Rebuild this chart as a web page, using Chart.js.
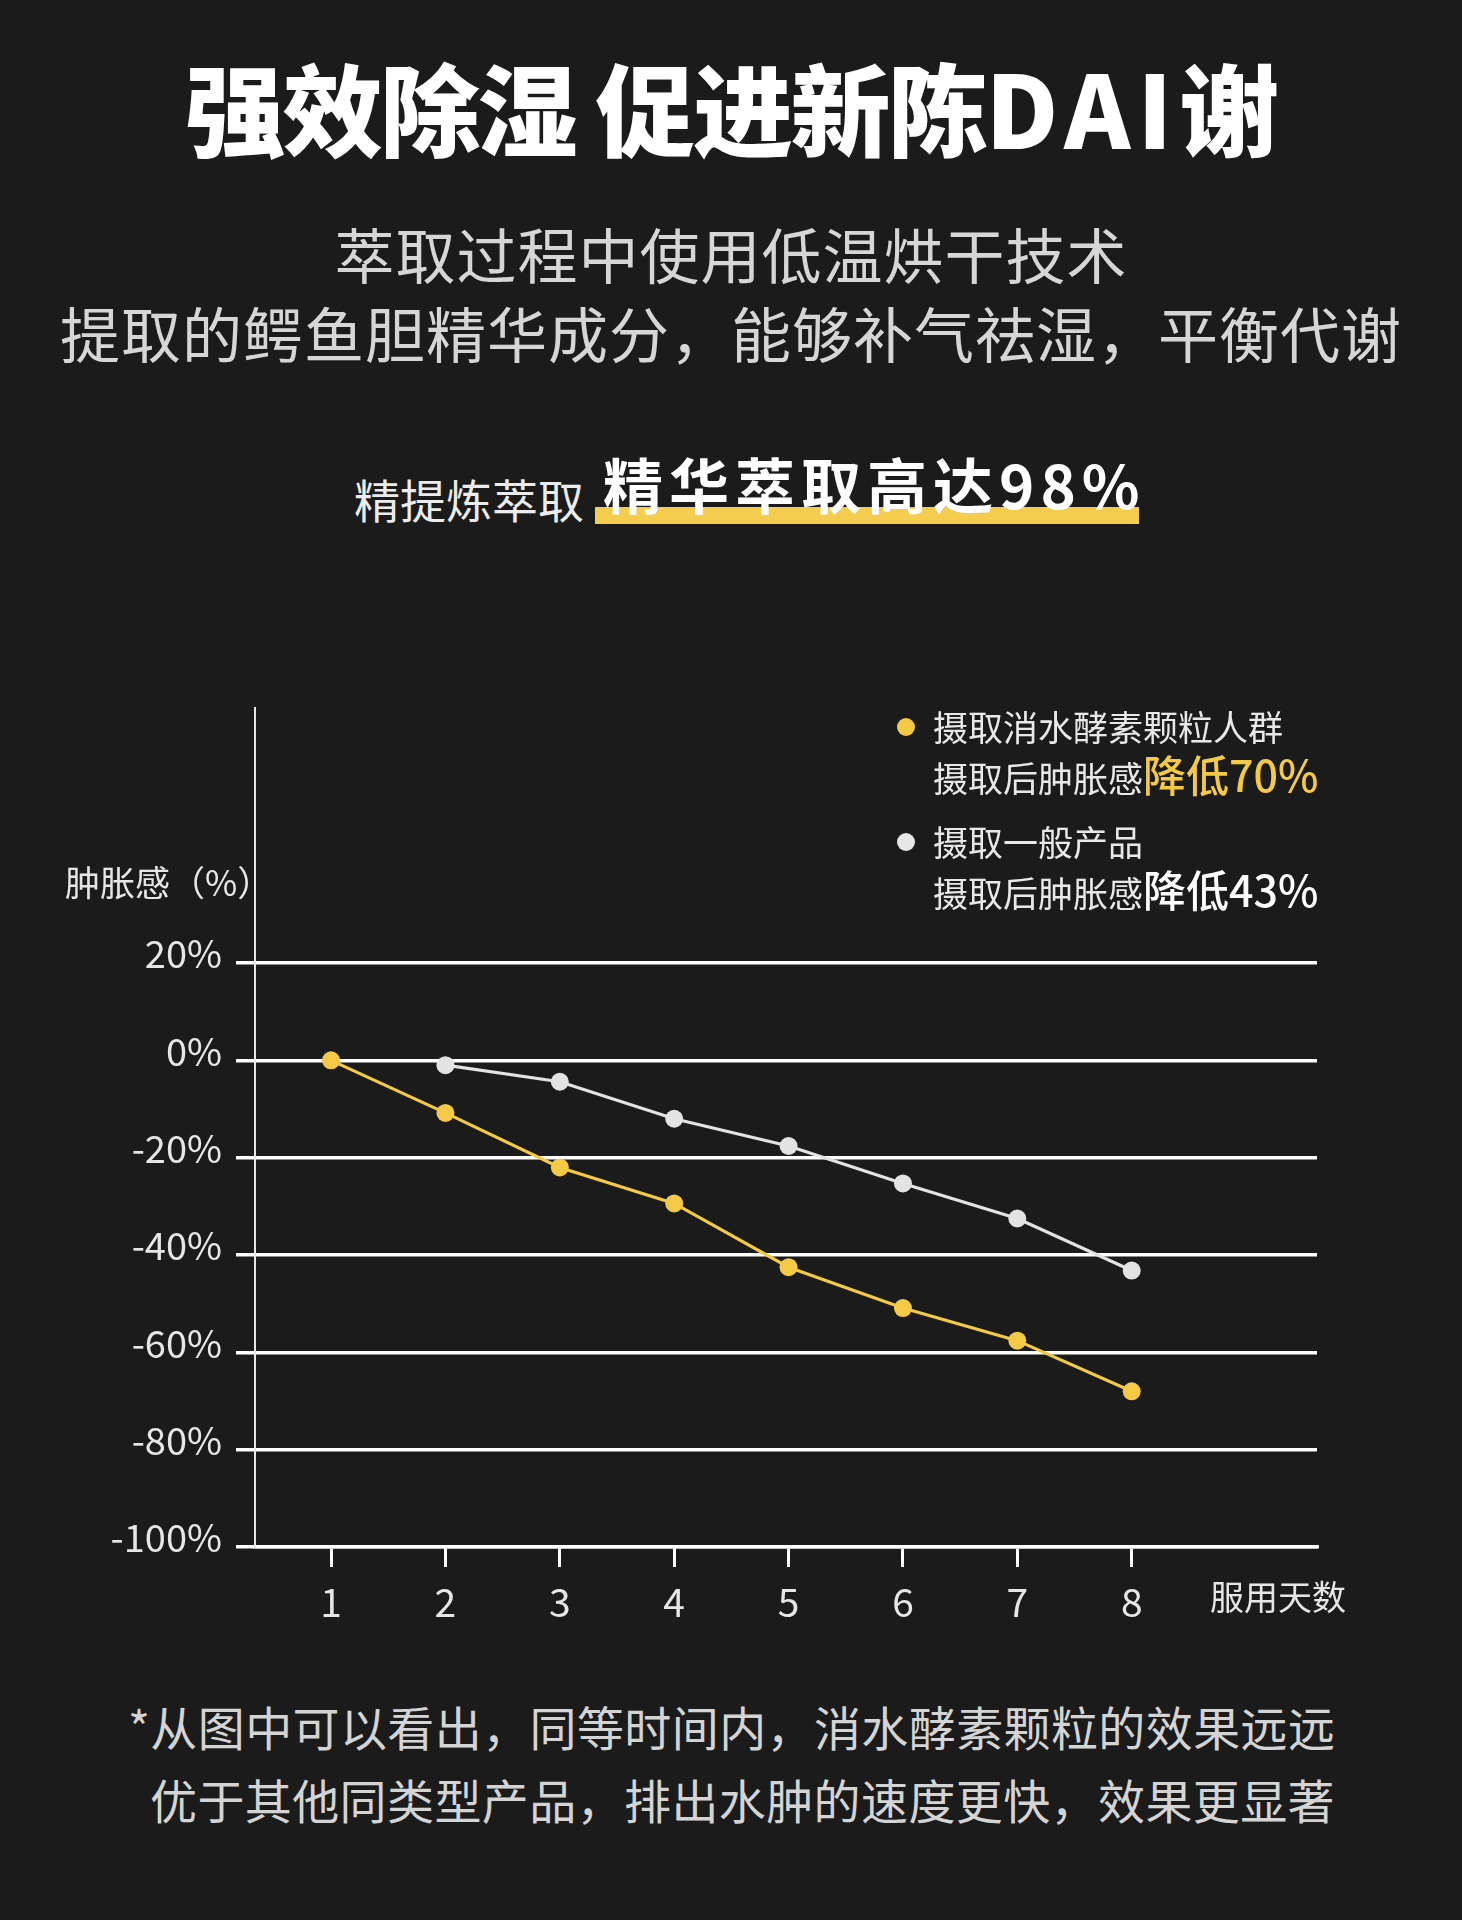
<!DOCTYPE html>
<html>
<head>
<meta charset="utf-8">
<script src="https://cdn.jsdelivr.net/npm/chart.js@4.4.1/dist/chart.umd.min.js"></script>
<style>
  html, body { margin: 0; padding: 0; background: #1b1b1b; }
  body { width: 1462px; height: 1920px; position: relative; overflow: hidden;
         font-family: "Noto Sans CJK SC", "Noto Sans", sans-serif; }
  .t { position: absolute; white-space: nowrap; }
  #title { left: 0; width: 1462px; text-align: center; top: 46px; line-height: 120px;
           font-size: 100px; font-weight: 900; color: #ffffff; letter-spacing: -2.5px; }
  #title .lat { letter-spacing: 7px; }
  .sub { left: 0; width: 1462px; text-align: center; line-height: 80px; font-size: 60px;
         color: #d6d6d6; font-weight: 400; letter-spacing: 1px; }
  #s1 { top: 213px; }
  #s2 { top: 292px; }
  #lead { left: 354px; top: 468px; line-height: 60px; font-size: 46px; color: #ececec; }
  #bar { position: absolute; left: 595px; top: 507px; width: 544px; height: 17px; background: #f5cd4e; }
  #hl { left: 603px; top: 448px; line-height: 70px; font-size: 60px; font-weight: 700;
        color: #ffffff; letter-spacing: 6px; }
  .dot { position: absolute; width: 18px; height: 18px; border-radius: 50%; }
  .lg { left: 933px; font-size: 35px; color: #e8e8e8; }
  .lg .big { font-size: 43px; font-weight: 500; }
  #ytitle { left: 65px; top: 861px; line-height: 40px; font-size: 35px; color: #e6e6e6; }
  #xtitle { left: 1210px; top: 1576px; line-height: 40px; font-size: 34px; color: #e6e6e6; }
  .note { font-size: 47px; line-height: 60px; color: #d4d4d4; letter-spacing: 0.4px; }
  #n1 { left: 128px; top: 1696px; }
  #n2 { left: 150px; top: 1769px; }
  #chartBox { position: absolute; left: 0; top: 640px; width: 1462px; height: 1000px; }
</style>
</head>
<body>
<div id="title" class="t">强效除湿 促进新陈<span class="lat">DAI</span>谢</div>
<div id="s1" class="t sub">萃取过程中使用低温烘干技术</div>
<div id="s2" class="t sub">提取的鳄鱼胆精华成分，能够补气祛湿，平衡代谢</div>
<div id="lead" class="t">精提炼萃取</div>
<div id="bar"></div>
<div id="hl" class="t">精华萃取高达98%</div>

<div id="chartBox"><canvas id="c" width="1462" height="1000"></canvas></div>

<div id="ytitle" class="t">肿胀感（%）</div>
<div id="xtitle" class="t">服用天数</div>

<div class="dot" style="left:897px;top:718px;background:#f3c945;"></div>
<div class="t lg" style="top:704px;line-height:44px;">摄取消水酵素颗粒人群</div>
<div class="t lg" style="top:748px;line-height:50px;">摄取后肿胀感<span class="big" style="color:#f3c945;">降低70%</span></div>
<div class="dot" style="left:897px;top:833px;background:#e6e6e6;"></div>
<div class="t lg" style="top:819px;line-height:44px;">摄取一般产品</div>
<div class="t lg" style="top:863px;line-height:50px;">摄取后肿胀感<span class="big" style="color:#ffffff;">降低43%</span></div>

<div id="n1" class="t note">*从图中可以看出，同等时间内，消水酵素颗粒的效果远远</div>
<div id="n2" class="t note">优于其他同类型产品，排出水肿的速度更快，效果更显著</div>

<script>
// ---- data ----
const days = [1, 2, 3, 4, 5, 6, 7, 8];
const enzymeGroup = [0, -10.8, -22, -29.4, -42.5, -50.9, -57.6, -68];
const generalProduct = [null, -1, -4.4, -12, -17.6, -25.3, -32.5, -43.2];
const yTickValues = [-100, -80, -60, -40, -20, 0, 20];
const seriesNames = ['摄取消水酵素颗粒人群', '摄取一般产品'];

const YELLOW = '#f3c945';
const WHITE = '#e3e3e3';

Chart.defaults.font.family = '"Noto Sans CJK SC", "Noto Sans", sans-serif';

const toPoints = arr => days.map((d, i) => ({ x: d, y: arr[i] })).filter(p => p.y !== null);

new Chart(document.getElementById('c'), {
  type: 'line',
  data: {
    datasets: [
      {
        label: seriesNames[1],
        data: toPoints(generalProduct),
        borderColor: WHITE,
        backgroundColor: WHITE,
        pointBackgroundColor: WHITE,
        pointBorderWidth: 0,
        pointRadius: 9,
        borderWidth: 3.2,
        tension: 0
      },
      {
        label: seriesNames[0],
        data: toPoints(enzymeGroup),
        borderColor: YELLOW,
        backgroundColor: YELLOW,
        pointBackgroundColor: YELLOW,
        pointBorderWidth: 0,
        pointRadius: 9,
        borderWidth: 3.2,
        tension: 0
      }
    ]
  },
  options: {
    responsive: false,
    animation: false,
    devicePixelRatio: 1,
    layout: { padding: { top: 68, right: 145, left: 0, bottom: 0 } },
    plugins: { legend: { display: false }, tooltip: { enabled: false }, title: { display: false } },
    scales: {
      x: {
        type: 'linear',
        min: 0.335,
        max: 9.62,
        afterBuildTicks: s => { s.ticks = days.map(v => ({ value: v })); },
        afterFit: s => { s.height = 93; },
        ticks: {
          color: '#e6e6e6',
          font: { size: 39 },
          padding: 12,
          callback: v => String(v)
        },
        grid: {
          display: true,
          drawOnChartArea: false,
          drawTicks: true,
          tickLength: 20,
          lineWidth: 3,
          color: '#ffffff'
        },
        border: { display: true, color: '#ffffff', width: 3.5 }
      },
      y: {
        type: 'linear',
        min: -100,
        max: 72.4,
        afterBuildTicks: s => { s.ticks = yTickValues.map(v => ({ value: v })); },
        afterFit: s => { s.width = 255; },
        ticks: {
          color: '#e6e6e6',
          font: { size: 38 },
          padding: 14,
          labelOffset: -9,
          callback: v => v + '%'
        },
        grid: {
          display: true,
          drawOnChartArea: true,
          drawTicks: true,
          tickLength: 19,
          lineWidth: 3.5,
          color: '#ffffff'
        },
        border: { display: true, color: '#e8e8e8', width: 2 }
      }
    }
  }
});
</script>
</body>
</html>
